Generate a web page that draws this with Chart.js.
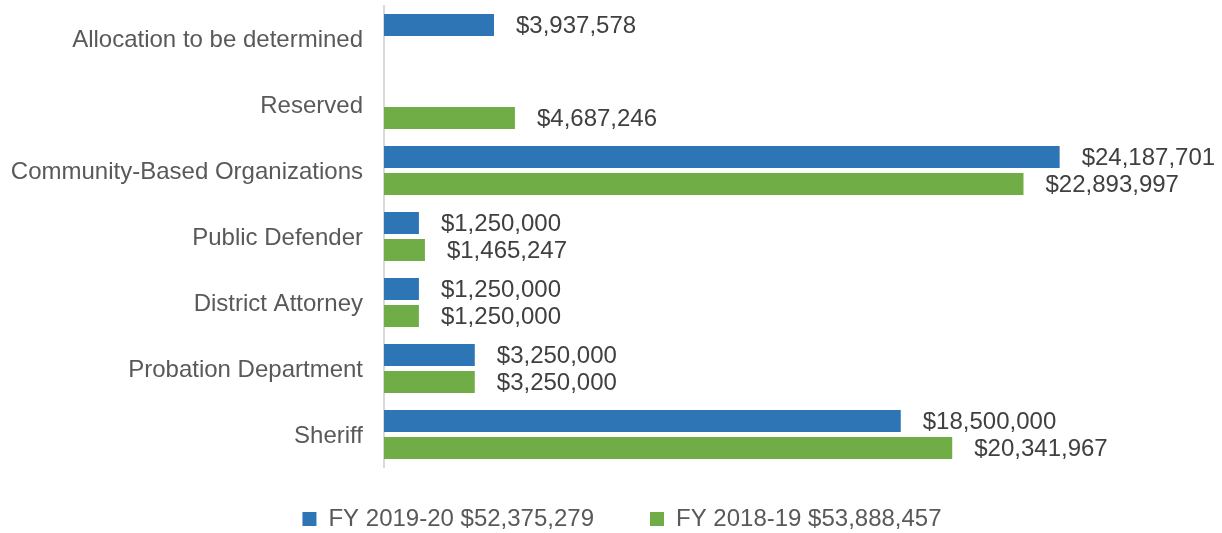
<!DOCTYPE html>
<html lang="en">
<head>
    <meta charset="UTF-8">
    <title>Allocation by Department</title>
    <script src="https://cdn.jsdelivr.net/npm/chart.js"></script>
    <style>
        body { margin: 0; background: #fff; }
        #wrap { width: 1222px; height: 533px; }
    </style>
</head>
<body>
    <div id="wrap"><canvas id="allocChart"></canvas></div>

    <script>
        // Data
        const categories = ['Allocation to be determined', 'Reserved', 'Community-Based Organizations',
            'Public Defender', 'District Attorney', 'Probation Department', 'Sheriff'];
        const fy2019Values = [3937578, null, 24187701, 1250000, 1250000, 3250000, 18500000];
        const fy2018Values = [null, 4687246, 22893997, 1465247, 1250000, 3250000, 20341967];
        const seriesNames = ['FY 2019-20 $52,375,279', 'FY 2018-19 $53,888,457'];

        const FONT = '"Liberation Sans", Arial, sans-serif';

        function money(v) {
            return '$' + v.toLocaleString('en-US');
        }

        // value labels to the right of each bar
        const barLabels = {
            id: 'barLabels',
            afterDatasetsDraw(chart) {
                const ctx = chart.ctx;
                ctx.save();
                ctx.font = '24px ' + FONT;
                ctx.fillStyle = '#404040';
                ctx.textAlign = 'left';
                ctx.textBaseline = 'middle';
                chart.data.datasets.forEach((ds, i) => {
                    const meta = chart.getDatasetMeta(i);
                    meta.data.forEach((bar, j) => {
                        const v = ds.data[j];
                        if (v == null) return;
                        ctx.fillText(money(v), bar.x + 22, bar.y + 1);
                    });
                });
                ctx.restore();
            }
        };

        // move the legend where the original has it (wide item gap, fixed row)
        const legendShift = {
            id: 'legendShift',
            afterLayout(chart) {
                const lg = chart.legend;
                if (!lg) return;
                lg.left = 22;
                lg.top = 451;
            }
        };

        const ctx = document.getElementById('allocChart').getContext('2d');
        const chart = new Chart(ctx, {
            type: 'bar',
            data: {
                labels: categories,
                datasets: [
                    {
                        label: seriesNames[0],
                        data: fy2019Values,
                        backgroundColor: '#2E75B6',
                        categoryPercentage: 0.82,
                        barPercentage: 0.82
                    },
                    {
                        label: seriesNames[1],
                        data: fy2018Values,
                        backgroundColor: '#70AD47',
                        categoryPercentage: 0.82,
                        barPercentage: 0.82
                    }
                ]
            },
            options: {
                indexAxis: 'y',
                responsive: true,
                maintainAspectRatio: false,
                animation: false,
                layout: {
                    padding: { left: 0, right: 0, top: 5.5, bottom: 0 }
                },
                scales: {
                    x: {
                        display: false,
                        min: 0,
                        max: 30000000
                    },
                    y: {
                        grid: { display: false, drawTicks: false },
                        border: { display: true, color: '#D9D9D9', width: 2 },
                        ticks: {
                            color: '#595959',
                            padding: 21,
                            labelOffset: 2,
                            font: { family: FONT, size: 24 }
                        },
                        afterFit(scale) {
                            scale.width = 384;
                            scale.paddingTop = 0;
                            scale.paddingBottom = 0;
                        }
                    }
                },
                plugins: {
                    legend: {
                        position: 'bottom',
                        maxHeight: 65.5,
                        labels: {
                            color: '#595959',
                            boxWidth: 14,
                            boxHeight: 14,
                            padding: 56,
                            font: { family: FONT, size: 24 }
                        }
                    },
                    tooltip: { enabled: false }
                }
            },
            plugins: [barLabels, legendShift]
        });
    </script>
</body>
</html>
